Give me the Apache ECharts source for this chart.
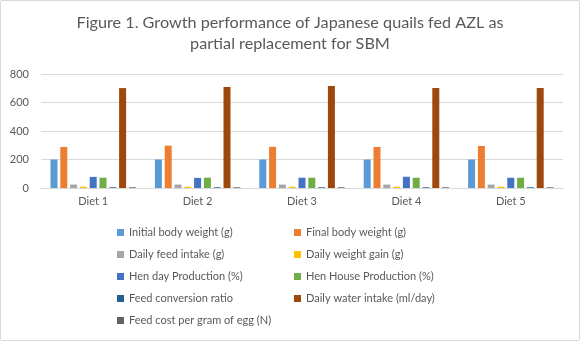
<!DOCTYPE html>
<html>
<head>
<meta charset="utf-8">
<script src="https://cdn.jsdelivr.net/npm/echarts@6/dist/echarts.min.js"></script>
<style>
html,body{margin:0;padding:0;background:#fff;}
#chart{width:578px;height:339px;border:1px solid #d9d9d9;border-radius:2px;}
</style>
</head>
<body>
<div id="chart"></div>
<script>
// Diets compared in the feeding trial
const categories = ['Diet 1', 'Diet 2', 'Diet 3', 'Diet 4', 'Diet 5'];
const yTicks = [0, 200, 400, 600, 800];

// Measured parameters per diet
const initialBodyWeight = [200, 200, 200, 200, 200];
const finalBodyWeight = [288, 297, 289, 288, 295];
const dailyFeedIntake = [24, 24, 24, 24, 24];
const dailyWeightGain = [9, 9, 9, 9, 9];
const henDayProduction = [78, 71, 72, 79, 72];
const henHouseProduction = [72, 72, 72, 72, 72];
const feedConversionRatio = [5, 5, 5, 5, 5];
const dailyWaterIntake = [701, 709, 716, 702, 702];
const feedCostPerGram = [5, 5, 5, 5, 5];

const seriesNames = [
  'Initial body weight (g)', 'Final body weight (g)',
  'Daily feed intake (g)', 'Daily weight gain (g)',
  'Hen day Production (%)', 'Hen House Production (%)',
  'Feed conversion ratio', 'Daily water intake (ml/day)',
  'Feed cost per gram of egg (N)'
];
const seriesValues = [
  initialBodyWeight, finalBodyWeight, dailyFeedIntake, dailyWeightGain,
  henDayProduction, henHouseProduction, feedConversionRatio,
  dailyWaterIntake, feedCostPerGram
];
const palette = ['#5B9BD5', '#ED7D31', '#A5A5A5', '#FFC000', '#4472C4',
                 '#70AD47', '#255E91', '#9E480E', '#636363'];

const textColor = '#595959';
const font = 'Lato, "Noto Sans", sans-serif';

const chart = echarts.init(document.getElementById('chart'), null, {renderer: 'canvas'});

const legendText = {color: textColor, fontSize: 11, fontFamily: font};

chart.setOption({
  animation: false,
  color: palette,
  title: {
    text: 'Figure 1. Growth performance of Japanese quails fed AZL as\npartial replacement for SBM',
    left: 'center',
    top: 6,
    textStyle: {color: textColor, fontSize: 16.2, fontWeight: 'normal', fontFamily: font, lineHeight: 21}
  },
  legend: [
    {
      orient: 'vertical', left: 111, top: 221, itemWidth: 7, itemHeight: 7, itemGap: 11,
      icon: 'rect', textStyle: legendText,
      data: [seriesNames[0], seriesNames[2], seriesNames[4], seriesNames[6], seriesNames[8]]
    },
    {
      orient: 'vertical', left: 288, top: 221, itemWidth: 7, itemHeight: 7, itemGap: 11,
      icon: 'rect', textStyle: legendText,
      data: [seriesNames[1], seriesNames[3], seriesNames[5], seriesNames[7]]
    }
  ],
  grid: {left: 40, right: 16, top: 73, bottom: 152, containLabel: false},
  xAxis: {
    type: 'category',
    data: categories,
    axisLine: {lineStyle: {color: '#d9d9d9'}},
    axisTick: {show: false},
    axisLabel: {color: textColor, fontSize: 11, fontFamily: font, margin: 8}
  },
  yAxis: {
    type: 'value',
    min: yTicks[0],
    max: yTicks[yTicks.length - 1],
    interval: yTicks[1] - yTicks[0],
    axisLine: {show: false},
    axisTick: {show: false},
    axisLabel: {color: textColor, fontSize: 11, fontFamily: font, margin: 12},
    splitLine: {lineStyle: {color: '#d9d9d9'}}
  },
  series: seriesNames.map((name, i) => ({
    name: name,
    type: 'bar',
    data: seriesValues[i],
    barWidth: 7,
    barGap: '40%'
  }))
});
</script>
</body>
</html>
